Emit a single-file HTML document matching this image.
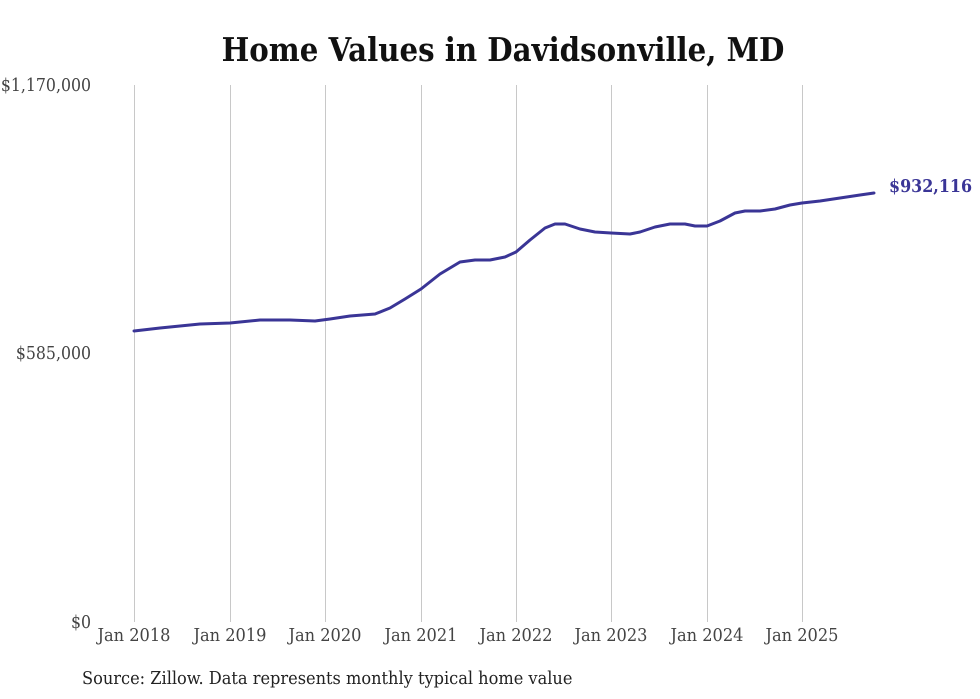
<!DOCTYPE html>
<html><head><style>
body{margin:0;background:#fff;}
svg{display:block;font-family:"DejaVu Serif","Liberation Serif",serif;font-stretch:condensed;}
</style></head><body>
<svg width="980" height="699" xmlns="http://www.w3.org/2000/svg">
<rect width="980" height="699" fill="#fff"/>
<text x="503" y="61" text-anchor="middle" font-size="32.5" font-weight="bold" fill="#111">Home Values in Davidsonville, MD</text>
<g stroke="#c8c8c8" stroke-width="1">
<line x1="134.5" y1="85" x2="134.5" y2="622"/>
<line x1="230.5" y1="85" x2="230.5" y2="622"/>
<line x1="325.5" y1="85" x2="325.5" y2="622"/>
<line x1="421.5" y1="85" x2="421.5" y2="622"/>
<line x1="516.5" y1="85" x2="516.5" y2="622"/>
<line x1="611.5" y1="85" x2="611.5" y2="622"/>
<line x1="707.5" y1="85" x2="707.5" y2="622"/>
<line x1="802.5" y1="85" x2="802.5" y2="622"/>
</g>
<g font-size="17.5" fill="#444" text-anchor="end">
<text x="91" y="91">$1,170,000</text>
<text x="91" y="359">$585,000</text>
<text x="91" y="628">$0</text>
</g>
<g font-size="18" fill="#444" text-anchor="middle">
<text x="134" y="641">Jan 2018</text>
<text x="230" y="641">Jan 2019</text>
<text x="325" y="641">Jan 2020</text>
<text x="421" y="641">Jan 2021</text>
<text x="516" y="641">Jan 2022</text>
<text x="611" y="641">Jan 2023</text>
<text x="707" y="641">Jan 2024</text>
<text x="802" y="641">Jan 2025</text>
</g>
<polyline fill="none" stroke="#3a3596" stroke-width="3" stroke-linejoin="round" stroke-linecap="round"
points="134,331 160,328 180,326 200,324 230,323 260,320 290,320 315,321 330,319 350,316 375,314 390,308 405,299 421,289 440,274 460,262 475,260 490,260 505,257 516,252 530,240 545,228 555,224 565,224 580,229 595,232 611,233 630,234 640,232 655,227 670,224 685,224 695,226 707,226 720,221 735,213 745,211 760,211 775,209 790,205 802,203 820,201 840,198 860,195 874,193"/>
<text x="889" y="192" font-size="17.7" font-weight="bold" fill="#3a3596">$932,116</text>
<text x="82" y="684" font-size="18" fill="#222">Source: Zillow. Data represents monthly typical home value</text>
</svg>
</body></html>
